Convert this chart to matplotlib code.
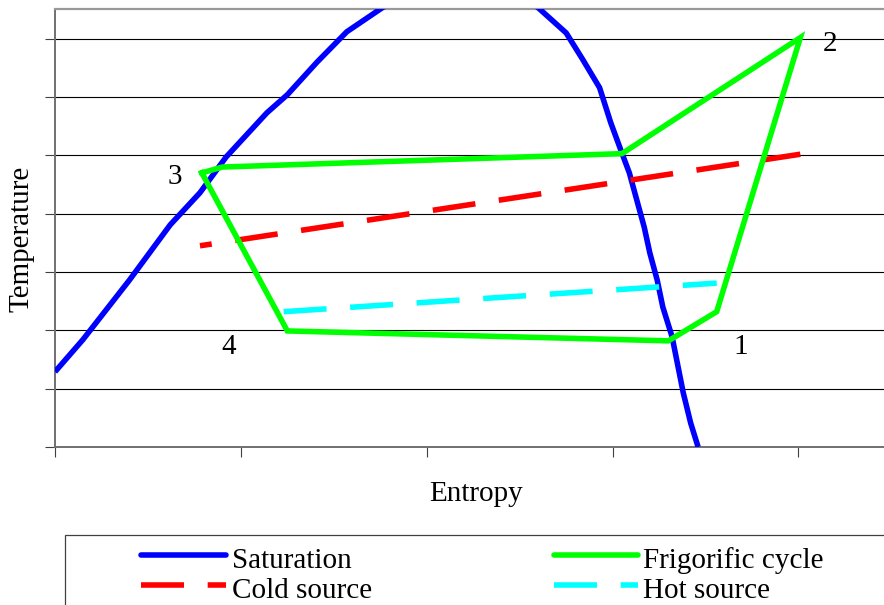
import numpy as np
import matplotlib.pyplot as plt
from matplotlib.lines import Line2D
from matplotlib.patches import Rectangle

plt.rcParams['font.family'] = ['Liberation Serif', 'DejaVu Serif']

# Saturation dome (entropy, temperature)
sat_s = [0.00, 0.15, 0.40, 0.62, 0.78, 0.92, 1.14, 1.25, 1.41, 1.57, 1.76, 1.95, 2.20, 2.45,
	2.60, 2.75, 2.84, 2.93, 2.99, 3.05, 3.09, 3.17, 3.20, 3.24, 3.27, 3.32, 3.38, 3.42, 3.46]
sat_t = [1.29, 1.84, 2.86, 3.81, 4.36, 4.97, 5.73, 6.04, 6.60, 7.12, 7.53, 7.85, 8.00, 7.85,
	7.53, 7.10, 6.64, 6.16, 5.56, 5.04, 4.70, 3.77, 3.33, 2.86, 2.40, 1.89, 0.93, 0.41, 0.00]

# Refrigeration cycle 3 -> 2 -> 1 -> 4 -> 3
cycle_s = [0.79, 0.90, 3.05, 4.01, 3.56, 3.30, 1.25, 0.79]
cycle_t = [4.70, 4.80, 5.03, 7.02, 2.32, 1.82, 1.99, 4.70]

cold_s = [0.78, 4.01]
cold_t = [3.45, 5.02]
hot_s = [1.23, 3.56]
hot_t = [2.32, 2.81]

# state numbers and their index in the cycle arrays
state_names = ["3", "2", "1", "4"]
state_idx = [0, 3, 5, 6]
state_offset = [(-27, -4), (30, -6), (72, -6), (-59, -16)]

LW = 4.0
DASH = (7.74, 4.26)

def px(x, y):
	# pixel position (from top-left) -> figure fraction
	return x / 884.0, 1.0 - y / 605.0

def main():
	fig = plt.figure(figsize=(8.84, 6.05), dpi=100)
	ax = fig.add_axes([55 / 884.0, 158 / 605.0, 842 / 884.0, 438 / 605.0])

	ax.plot(sat_s, sat_t, color="#0000ff", lw=LW, solid_capstyle="butt", zorder=3)
	ax.plot(cold_s, cold_t, color="#ff0000", lw=LW, linestyle=(5.6, DASH),
		dash_capstyle="butt", zorder=3)
	ax.plot(hot_s, hot_t, color="#00ffff", lw=LW, linestyle=(0, DASH),
		dash_capstyle="butt", zorder=3)
	ax.plot(cycle_s, cycle_t, color="#00ff00", lw=LW, solid_joinstyle="miter", zorder=4)

	for name, i, off in zip(state_names, state_idx, state_offset):
		ax.annotate(name, (cycle_s[i], cycle_t[i]), xytext=off, textcoords="offset pixels",
			ha="center", va="center", fontsize=21)

	ax.set_xlim(0, 4.53)
	ax.set_ylim(0, 7.51)
	ax.set_xticks(np.arange(0, 5))
	ax.set_yticks(np.arange(0, 8))
	ax.set_xticklabels([])
	ax.set_yticklabels([])
	ax.tick_params(direction="out", length=7.2, width=0.8, color="#404040")
	ax.grid(axis="y", color="black", lw=0.8)
	ax.set_axisbelow(True)

	ax.spines["right"].set_visible(False)
	ax.spines["top"].set_color("#999999")
	ax.spines["top"].set_linewidth(1.6)
	for side in ("left", "bottom"):
		ax.spines[side].set_color("#707070")
		ax.spines[side].set_linewidth(1.4)

	fig.text(*px(22, 239), "Temperature", rotation=90, ha="center", va="center", fontsize=21)
	fig.text(*px(476, 494), "Entropy", ha="center", va="center", fontsize=21)

	# legend box, running off the bottom-right of the figure
	x0, y0 = px(65, 535)
	fig.patches.append(Rectangle((x0, -0.1), 1.0, y0 + 0.1, transform=fig.transFigure,
		facecolor="none", edgecolor="#404040", lw=0.9))

	entries = [
		("Saturation", dict(color="#0000ff", solid_capstyle="round"), 141, 226, 232, 555, 568),
		("Cold source", dict(color="#ff0000", linestyle=(0, DASH), dash_capstyle="butt"), 141, 226, 232, 585, 598),
		("Frigorific cycle", dict(color="#00ff00", solid_capstyle="round"), 554, 638, 643, 555, 568),
		("Hot source", dict(color="#00ffff", linestyle=(0, DASH), dash_capstyle="butt"), 554, 638, 643, 585, 598),
	]
	for label, style, xa, xb, xt, yl, yb in entries:
		(fa, fy), (fb, _) = px(xa, yl), px(xb, yl)
		fig.lines.append(Line2D([fa, fb], [fy, fy], lw=LW, transform=fig.transFigure, **style))
		fig.text(*px(xt, yb), label, ha="left", va="baseline", fontsize=21)

	fig.savefig("out.png", dpi=100)

if __name__ == "__main__":
	main()
